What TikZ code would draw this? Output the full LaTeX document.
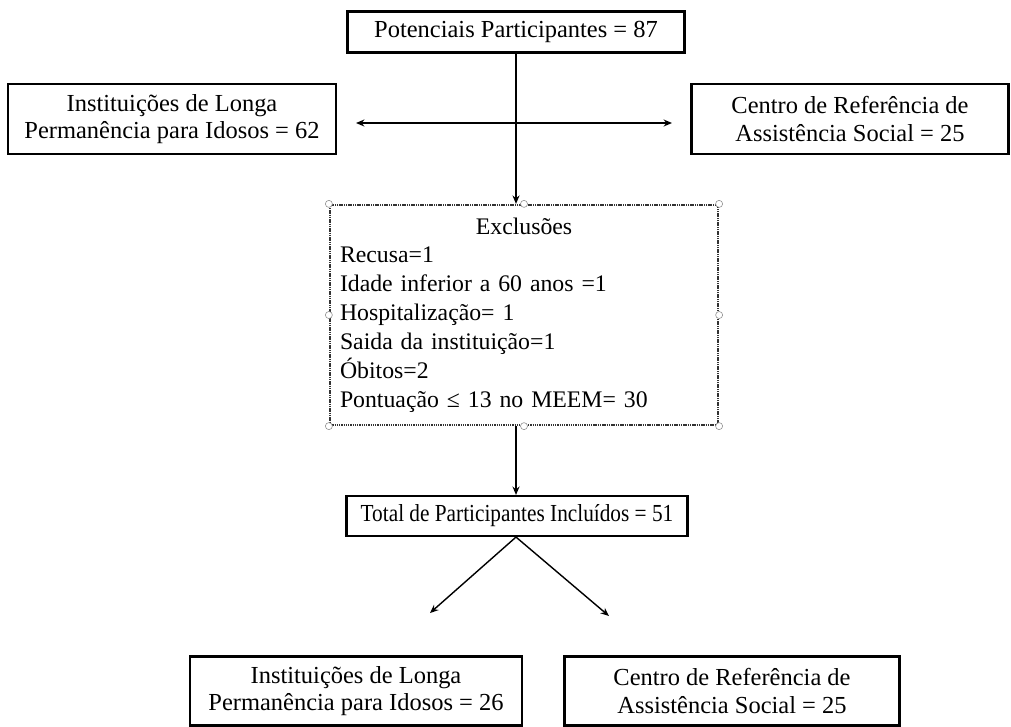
\documentclass[tikz,border=0pt]{standalone}
\usepackage{fontspec}
\setmainfont{Liberation Serif}
\usetikzlibrary{arrows.meta}
\tikzset{
    box/.style={draw, line width=1.5pt, align=center, inner sep=2pt,
        font=\fontsize{17.4}{19.5}\selectfont},
    selbox/.style={draw=black!80, line width=1.6pt, dash pattern=on 1pt off 0.6pt,
        inner sep=0pt, font=\fontsize{16.9}{20.55}\selectfont},
    handle/.style={circle, draw=black!45, fill=white, line width=0.4pt, inner sep=0pt,
        minimum size=5pt},
    flow/.style={-{Stealth[length=6pt,width=5pt]}, line width=1pt},
}
\begin{document}
\begin{tikzpicture}[x=0.025cm, y=-0.025cm]
        \useasboundingbox (0, 0) rectangle (1011, 726);
        \begin{scope}[every node/.style={box}]
            \node[minimum width=337*0.025cm, minimum height=41*0.025cm] (pot) at (516, 32) {Potenciais Participantes = 87};
            \node[minimum width=328*0.025cm, minimum height=70*0.025cm] (ilpia) at (172, 119) {Instituições de Longa\\Permanência para Idosos = 62};
            \node[minimum width=317*0.025cm, minimum height=70*0.025cm] (crasa) at (850, 119) {Centro de Referência de\\Assistência Social = 25};
            \node[minimum width=341*0.025cm, minimum height=40*0.025cm] (total) at (517, 516) {\scalebox{0.87}[1]{Total de Participantes Incluídos = 51}};
            \node[minimum width=332*0.025cm, minimum height=69*0.025cm] (ilpib) at (356, 691) {Instituições de Longa\\Permanência para Idosos = 26};
            \node[minimum width=335*0.025cm, minimum height=69*0.025cm] (crasb) at (732, 691) {Centro de Referência de\\Assistência Social = 25};
        \end{scope}
        \node[selbox, minimum width=388*0.025cm, minimum height=220*0.025cm, text width=368*0.025cm, align=left] (excl) at (524, 315)
            {\makebox[9.2cm]{Exclusões}\\Recusa=1\\Idade inferior a 60 anos =1\\Hospitalização= 1\\Saida da instituição=1\\Óbitos=2\\Pontuação ≤ 13 no MEEM= 30};
        \foreach \a in {north west, north, north east, east, south east, south, south west, west}
            \node[handle] (h-\a) at (excl.\a) {};
        \coordinate (hl) at (356, 123);
        \coordinate (hr) at (672, 123);
        \coordinate (dl) at (430, 613);
        \coordinate (dr) at (609, 616);
        \begin{scope}[every node/.style={fill=white}]
            \path [flow] (pot.south) edge (pot.south |- excl.north);
            \path [flow, {Stealth[length=6pt,width=5pt]}-{Stealth[length=6pt,width=5pt]}] (hl) edge (hr);
            \path [flow] (pot.south |- excl.south) edge (pot.south |- total.north);
            \path [flow] (pot.south |- total.south) edge (dl);
            \path [flow] (pot.south |- total.south) edge (dr);
        \end{scope}
    \end{tikzpicture}
\end{document}
